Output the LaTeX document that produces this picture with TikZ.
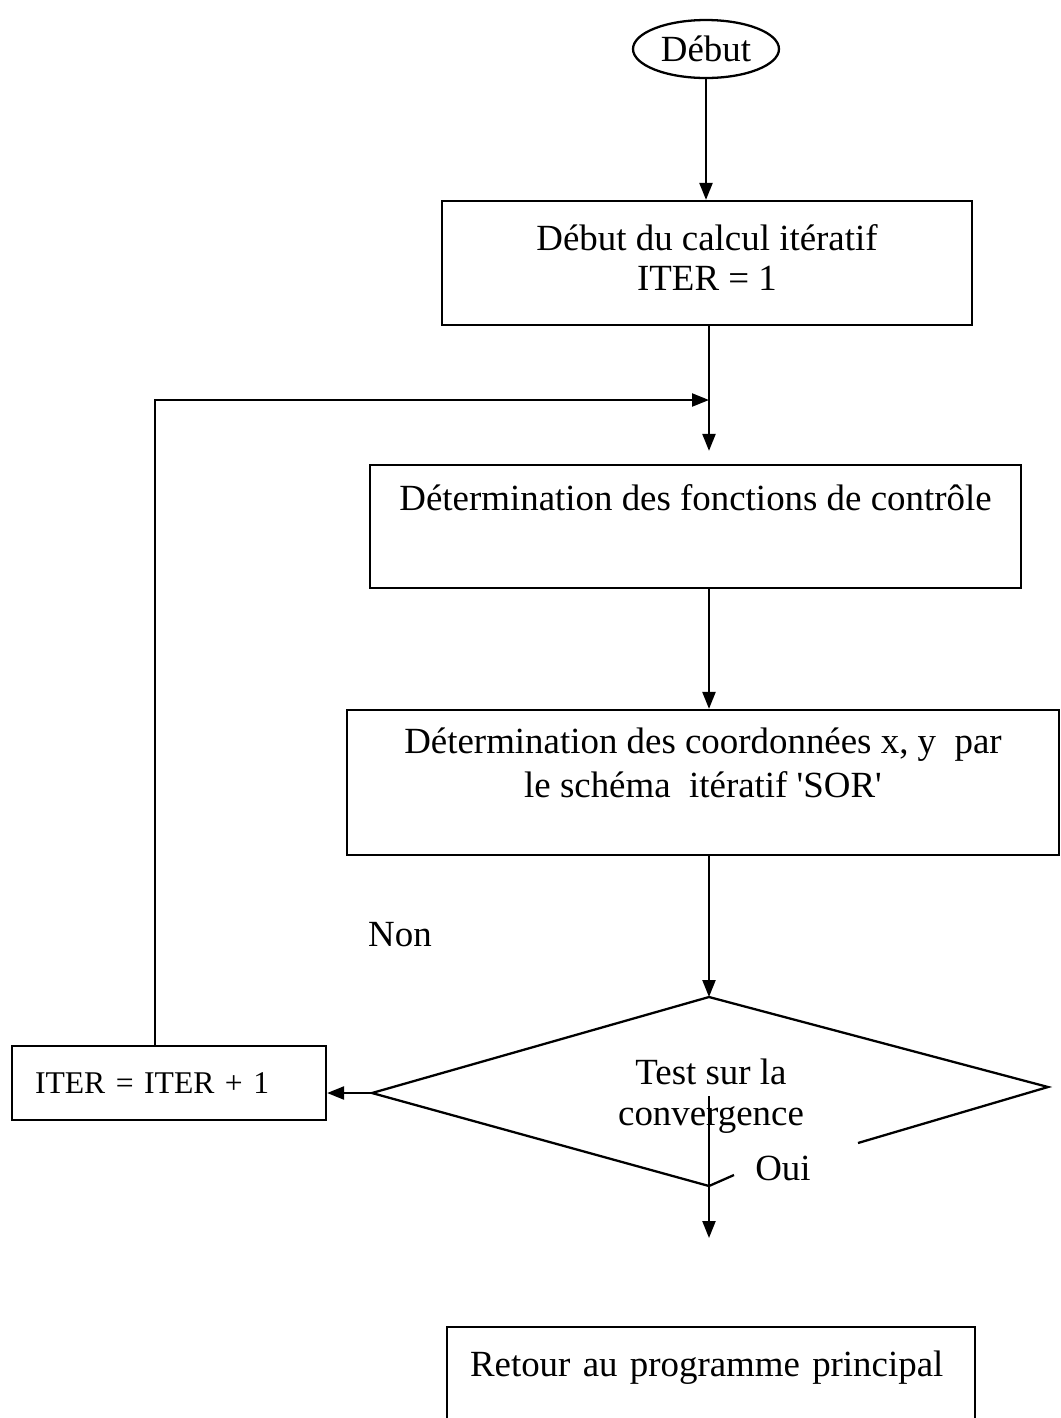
\documentclass[tikz,border=0pt]{standalone}
\usepackage{fontspec}
\setmainfont{Liberation Serif}
\usetikzlibrary{shapes.geometric,arrows.meta}
\tikzset{
  box/.style={draw,line width=1.3pt,align=center,inner sep=0pt,font=\fontsize{21}{25}\selectfont},
  arr/.style={line width=1.3pt,-{Triangle[length=0.34cm,width=0.26cm]}},
  txt/.style={font=\fontsize{21}{25}\selectfont}
}
\begin{document}
\begin{tikzpicture}[x=0.02cm,y=-0.02cm,line width=1.3pt]
\useasboundingbox (0,0) rectangle (1061,1418);
\coordinate (axis) at (709,0);
\coordinate (loop) at (155,0);

\node (debut) [box,ellipse,minimum width=2.92cm,minimum height=1.16cm] at (706,49) {Début};
\node (init) [box,minimum width=10.6cm,minimum height=2.48cm] at (707,263) {Début du calcul itératif\\[-2pt]ITER = 1\\[-19pt]};
\node (ctrl) [box,minimum width=13.02cm,minimum height=2.46cm] at (695.5,526.5) {Détermination des fonctions de contrôle\\ \strut};
\node (sor) [box,minimum width=14.24cm,minimum height=2.9cm] at (703,782.5) {Détermination des coordonnées x, y~~par\\le schéma~~itératif \textquotesingle SOR\textquotesingle\\[-10pt] \strut};
\node (incr) [box,minimum width=6.28cm,minimum height=1.48cm,text width=5.36cm,inner xsep=0.46cm,align=left,font=\fontsize{18}{22}\selectfont] at (169,1083) {ITER = ITER + 1};
\node (retour) [box,minimum width=10.56cm,minimum height=2.46cm,text width=9.64cm,inner xsep=0.46cm,align=left] at (711,1388.5) {Retour au programme principal\\[-4pt] \strut};

\coordinate (dtop) at (709,997);
\coordinate (dleft) at (372,1093);
\coordinate (dright) at (1048,1087);
\coordinate (dbot) at (709,1186);
\coordinate (dgap) at (858,1143);
\coordinate (dtick) at (734,1175);
\draw (dgap) -- (dright) -- (dtop) -- (dleft) -- (dbot) -- (dtick);
\node (test) [txt,align=center] at (711,1096) {Test sur la\\[-2pt]convergence};
\node (non) [txt] at (400,935) {Non};
\node (oui) [txt] at (783,1168) {Oui};

\coordinate (join) at (709,400);
\coordinate (exit) at (709,1238);
\draw[arr] (debut.south) -- (debut.south |- init.north);
\draw[arr,shorten >=0.26cm] (init.south -| axis) -- (ctrl.north -| axis);
\draw[arr] (incr.north -| loop) |- (join);
\draw[arr] (ctrl.south -| axis) -- (sor.north -| axis);
\draw[arr] (sor.south -| axis) -- (dtop);
\draw[arr] (dleft) -- (dleft -| incr.east);
\draw[arr] (test.center -| axis) -- (exit);

\end{tikzpicture}
\end{document}
